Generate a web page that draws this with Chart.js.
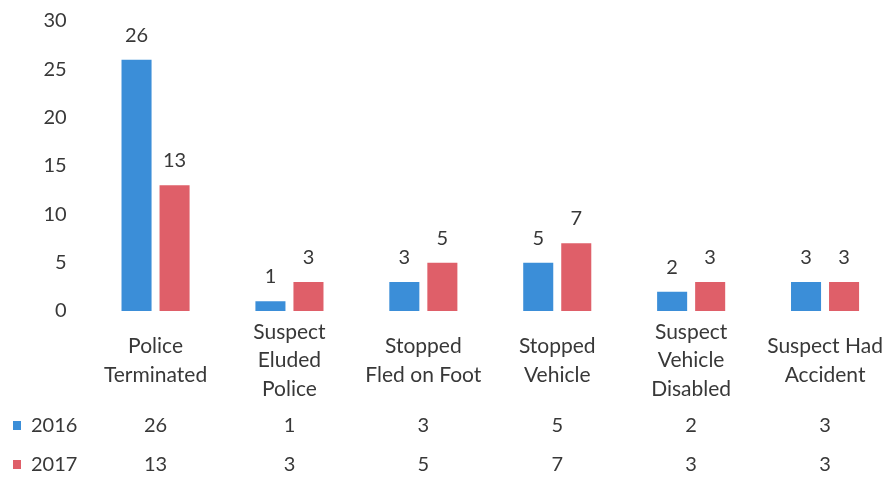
<!DOCTYPE html>
<html lang="en">
<head>
<meta charset="UTF-8">
<script src="https://cdn.jsdelivr.net/npm/chart.js@4"></script>
<style>
  html, body { margin: 0; padding: 0; background: #ffffff; overflow: hidden; }
  #wrap { width: 885px; height: 477px; overflow: hidden; }
  canvas { display: block; }
</style>
</head>
<body>
<div id="wrap">
  <canvas id="chart" width="892" height="477"></canvas>
</div>
<script>
// chart values
const categories = [
  ['Police', 'Terminated'],
  ['Suspect', 'Eluded', 'Police'],
  ['Stopped', 'Fled on Foot'],
  ['Stopped', 'Vehicle'],
  ['Suspect', 'Vehicle', 'Disabled'],
  ['Suspect Had', 'Accident']
];
const seriesNames = ['2016', '2017'];
const values2016 = [26, 1, 3, 5, 2, 3];
const values2017 = [13, 3, 5, 7, 3, 3];
const yTicks = [0, 5, 10, 15, 20, 25, 30];

const blue = '#3b8ed8';
const red = '#df5f69';
const textColor = '#383838';
const fontFamily = 'Lato, "Liberation Sans", sans-serif';

// values above each bar
const barLabels = {
  id: 'barLabels',
  afterDatasetsDraw(chart) {
    const ctx = chart.ctx;
    ctx.save();
    ctx.font = '20px ' + fontFamily;
    ctx.fillStyle = textColor;
    ctx.textAlign = 'center';
    ctx.textBaseline = 'alphabetic';
    chart.data.datasets.forEach((ds, di) => {
      chart.getDatasetMeta(di).data.forEach((bar, i) => {
        ctx.fillText(String(ds.data[i]), bar.x, bar.y - 18);
      });
    });
    ctx.restore();
  }
};

// data table under the axis
const dataTable = {
  id: 'dataTable',
  afterDraw(chart) {
    const ctx = chart.ctx;
    const x = chart.scales.x;
    const rows = [426, 465];
    ctx.save();
    ctx.font = '20px ' + fontFamily;
    ctx.textBaseline = 'middle';
    chart.data.datasets.forEach((ds, di) => {
      const y = rows[di];
      ctx.fillStyle = ds.backgroundColor;
      ctx.fillRect(13, y - 5, 8, 9);
      ctx.fillStyle = textColor;
      ctx.textAlign = 'left';
      ctx.fillText(ds.label, 31, y);
      ctx.textAlign = 'center';
      ds.data.forEach((v, i) => {
        ctx.fillText(String(v), x.getPixelForValue(i), y);
      });
    });
    ctx.restore();
  }
};

new Chart(document.getElementById('chart'), {
  type: 'bar',
  data: {
    labels: categories,
    datasets: [
      { label: seriesNames[0], data: values2016, backgroundColor: blue },
      { label: seriesNames[1], data: values2017, backgroundColor: red }
    ]
  },
  options: {
    responsive: false,
    animation: false,
    categoryPercentage: 0.568,
    barPercentage: 0.79,
    layout: { padding: { top: 21, right: 0, bottom: 0, left: 0 } },
    plugins: {
      legend: { display: false },
      tooltip: { enabled: false }
    },
    scales: {
      x: {
        grid: { display: false, drawTicks: true, tickLength: 21 },
        border: { display: false },
        afterFit(scale) { scale.height = 166; },
        ticks: {
          color: textColor,
          font: { family: fontFamily, size: 21, lineHeight: 1.357 },
          maxRotation: 0,
          autoSkip: false,
          padding: 0,
          crossAlign: 'center'
        }
      },
      y: {
        min: 0,
        max: 30,
        grid: { display: false, drawTicks: true, tickLength: 22 },
        border: { display: false },
        afterFit(scale) { scale.width = 88.6; },
        afterBuildTicks(scale) { scale.ticks = yTicks.map(v => ({ value: v })); },
        ticks: {
          color: textColor,
          font: { family: fontFamily, size: 20 },
          padding: 0
        }
      }
    }
  },
  plugins: [barLabels, dataTable]
});
</script>
</body>
</html>
